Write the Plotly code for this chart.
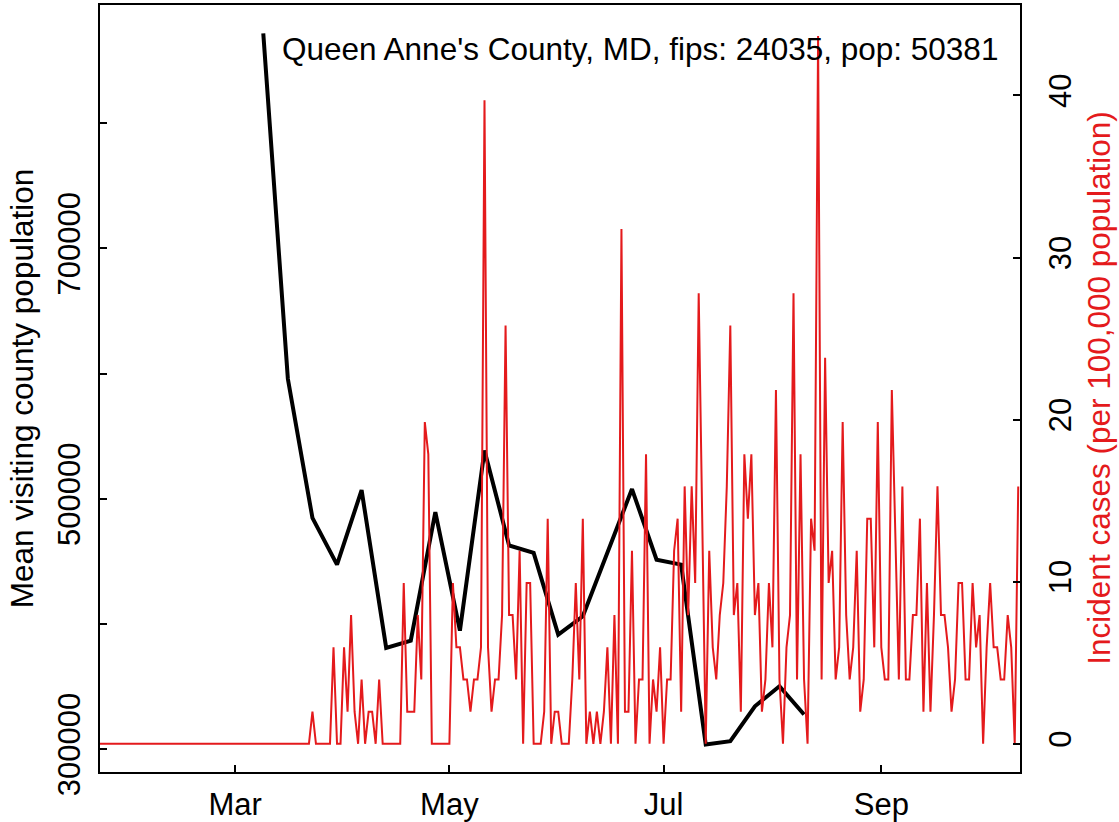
import plotly.graph_objects as go
import pandas as pd

# ---------------- data ----------------
red_start_date = "2020-01-22"
# Incident cases per 100,000 population, daily from 2020-01-22
incidence = [
    0, 0, 0, 0, 0, 0, 0, 0, 0, 0,
    0, 0, 0, 0, 0, 0, 0, 0, 0, 0,
    0, 0, 0, 0, 0, 0, 0, 0, 0, 0,
    0, 0, 0, 0, 0, 0, 0, 0, 0, 0,
    0, 0, 0, 0, 0, 0, 0, 0, 0, 0,
    0, 0, 0, 0, 0, 0, 0, 0, 0, 0, 0,
    1.98, 0, 0, 0, 0, 0, 5.95, 0, 0, 5.95,
    1.98, 7.94, 1.98, 0, 3.97, 0, 1.98, 1.98, 0, 3.97,
    0, 0, 0, 0, 0, 0, 9.92, 1.98, 1.98, 1.98,
    7.94, 3.97, 19.85, 17.86, 0, 0, 0, 0, 0, 0,
    9.92, 5.95, 5.95, 3.97, 3.97, 1.98, 3.97, 3.97, 5.95, 39.70,
    5.95, 1.98, 3.97, 3.97, 7.94, 25.80, 7.94, 7.94, 3.97, 11.91,
    0, 9.92, 9.92, 0, 0, 0, 1.98, 13.89, 0, 1.98,
    1.98, 0, 0, 0, 3.97, 9.92, 3.97, 13.89, 0, 1.98,
    0, 1.98, 0, 1.98, 5.95, 0, 7.94, 0, 31.76, 1.98,
    1.98, 11.91, 0, 3.97, 3.97, 17.86, 0, 3.97, 1.98, 5.95,
    0, 3.97, 3.97, 11.91, 13.89, 1.98, 15.88, 7.94, 15.88, 9.92,
    27.79, 13.89, 0, 11.91, 5.95, 3.97, 7.94, 9.92, 15.88, 25.80,
    7.94, 9.92, 1.98, 17.86, 13.89, 17.86, 7.94, 9.92, 1.98, 3.97,
    9.92, 5.95, 21.83, 3.97, 0, 5.95, 7.94, 27.79, 3.97, 17.86,
    3.97, 0, 13.89, 11.91, 43.67, 3.97, 23.82, 9.92, 11.91, 3.97,
    5.95, 19.85, 7.94, 3.97, 5.95, 11.91, 1.98, 3.97, 13.89, 13.89,
    5.95, 19.85, 5.95, 3.97, 3.97, 21.83, 11.91, 3.97, 15.88, 3.97,
    3.97, 7.94, 7.94, 13.89, 1.98, 9.92, 1.98, 7.94, 15.88, 7.94,
    7.94, 5.95, 1.98, 3.97, 9.92, 9.92, 3.97, 3.97, 9.92, 5.95,
    7.94, 0, 5.95, 9.92, 5.95, 5.95, 3.97, 3.97, 7.94, 5.95,
    0, 15.88,
]

# Weekly mean visiting county population
visit_dates = [
    "2020-03-09", "2020-03-16", "2020-03-23", "2020-03-30", "2020-04-06",
    "2020-04-13", "2020-04-20", "2020-04-27", "2020-05-04", "2020-05-11",
    "2020-05-18", "2020-05-25", "2020-06-01", "2020-06-08", "2020-06-22",
    "2020-06-29", "2020-07-06", "2020-07-13", "2020-07-20", "2020-07-27",
    "2020-08-03", "2020-08-10",
]
visit_values = [
    871700, 595900, 484700, 447400, 506900,
    380900, 386750, 489300, 394700, 538600,
    462800, 456750, 391550, 406150, 507800,
    451400, 447400, 303750, 306400, 334300,
    350300, 327700,
]

x_tick_dates = ["2020-03-01", "2020-05-01", "2020-07-01", "2020-09-01"]
x_tick_labels = ["Mar", "May", "Jul", "Sep"]
left_tick_vals = [300000, 400000, 500000, 600000, 700000, 800000]
left_tick_labels = ["300000", "", "500000", "", "700000", ""]
right_tick_vals = [0, 10, 20, 30, 40]
right_tick_labels = ["0", "10", "20", "30", "40"]

title_text = "Queen Anne's County, MD, fips: 24035, pop: 50381"
left_title = "Mean visiting county population"
right_title = "Incident cases (per 100,000 population)"

# ---------------- figure ----------------
RED = "#E41A1C"
FONT = "Liberation Sans, Arial, Helvetica, sans-serif"
FS_TICK = 31
FS_TEXT = 31.5

inc_dates = pd.date_range(red_start_date, periods=len(incidence), freq="D")

fig = go.Figure()
fig.add_trace(go.Scatter(
    x=pd.to_datetime(visit_dates), y=visit_values, mode="lines",
    line=dict(color="black", width=4), yaxis="y", showlegend=False,
    hoverinfo="skip"))
fig.add_trace(go.Scatter(
    x=inc_dates, y=incidence, mode="lines",
    line=dict(color=RED, width=2), yaxis="y2", showlegend=False,
    hoverinfo="skip"))

axis_common = dict(
    showgrid=False, zeroline=False, showline=True, linecolor="black",
    linewidth=2, ticks="inside", ticklen=7, tickwidth=2, tickcolor="black",
    tickfont=dict(family=FONT, size=FS_TICK, color="black"),
    automargin=False,
)

fig.update_layout(
    width=1119, height=822,
    margin=dict(l=100, r=99, t=5, b=50, autoexpand=False),
    paper_bgcolor="white", plot_bgcolor="white",
    showlegend=False,
    font=dict(family=FONT, size=FS_TEXT, color="black"),
    xaxis=dict(
        range=["2020-01-22 12:00", "2020-10-10 12:00"],
        tickmode="array", tickvals=x_tick_dates, ticktext=x_tick_labels,
        mirror=True, ticklabelstandoff=4, **axis_common),
    yaxis=dict(
        range=[281800, 894400], tickmode="array",
        tickvals=left_tick_vals, ticktext=left_tick_labels,
        tickangle=-90, ticklabelstandoff=6, **axis_common),
    yaxis2=dict(
        range=[-1.74, 45.58], overlaying="y", side="right",
        tickmode="array", tickvals=right_tick_vals,
        ticktext=right_tick_labels, tickangle=-90, ticklabelstandoff=12,
        **axis_common),
    annotations=[
        dict(text=title_text, xref="paper", yref="paper", x=0.978,
             y=0.943, xanchor="right", yanchor="middle", showarrow=False,
             font=dict(family=FONT, size=FS_TEXT, color="black")),
        dict(text=left_title, xref="paper", yref="paper", x=-0.085,
             y=0.5, xanchor="center", yanchor="middle", textangle=-90,
             showarrow=False,
             font=dict(family=FONT, size=FS_TEXT, color="black")),
        dict(text=right_title, xref="paper", yref="paper", x=1.085,
             y=0.5, xanchor="center", yanchor="middle", textangle=-90,
             showarrow=False,
             font=dict(family=FONT, size=FS_TEXT, color=RED)),
    ],
)

fig.write_html(
    "out.html",
    config={"displayModeBar": False, "staticPlot": True},
    post_script="document.body.style.margin='0';"
                "document.body.style.overflow='hidden';",
)
